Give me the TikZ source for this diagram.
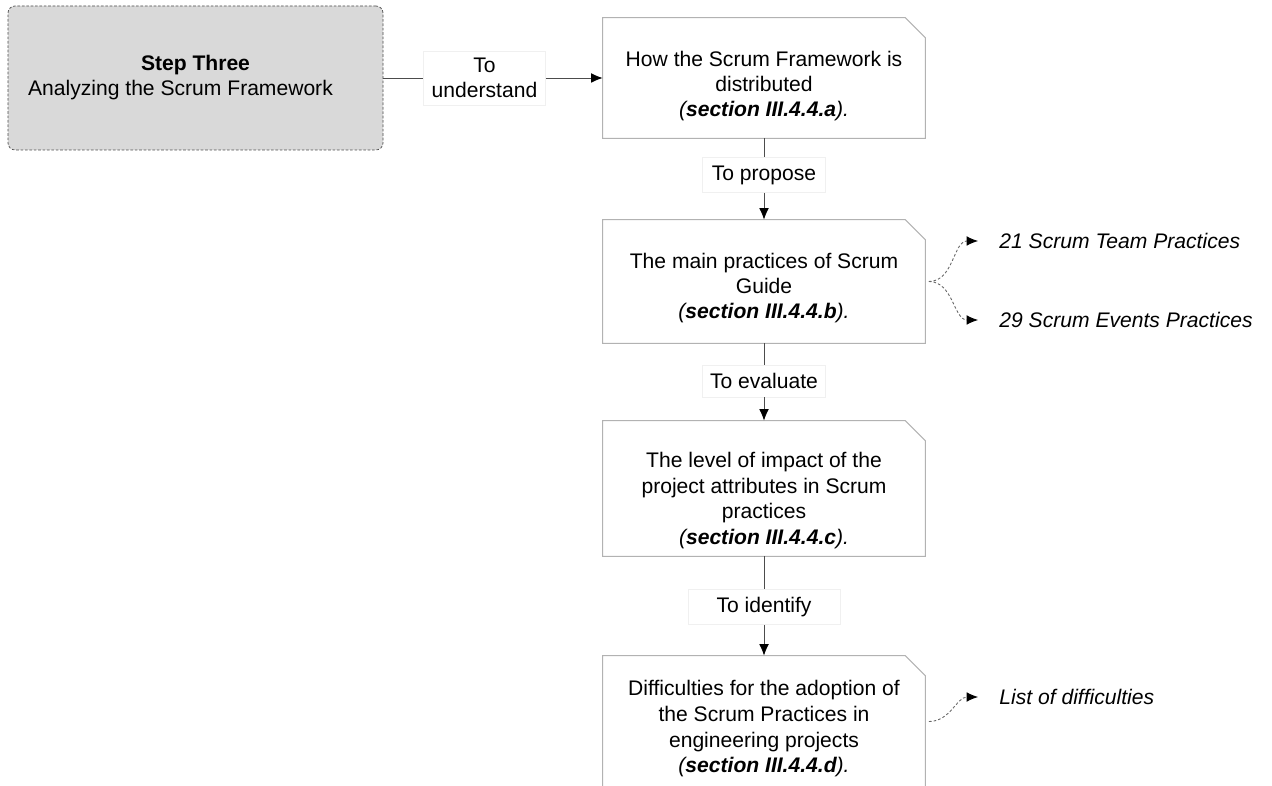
\documentclass[tikz,border=0pt]{standalone}
\usepackage{fontspec}
\setmainfont{Liberation Sans}
\usetikzlibrary{positioning,arrows.meta}

\newcommand{\docframe}[1]{\draw[docline] (#1.south west) -- (#1.north west) -- ([xshift=-0.4cm]#1.north east) -- ([yshift=-0.4cm]#1.north east) -- (#1.south east) -- cycle;}
\newcommand{\sect}[1]{\textit{(\textbf{section #1}).}}
\newcommand{\topgap}[1]{\rule{0pt}{#1}}

\begin{document}
\begin{tikzpicture}
[>={Latex[length=6.5pt,width=5.5pt,color=black]},
 every node/.style = {font=\fontsize{12}{14.2}\selectfont},
 stepbox/.style = {draw=black!70, dash pattern=on 1.5pt off 1pt, fill=black!15, rounded corners=4pt, minimum width=7.5cm, minimum height=2.88cm, align=center},
 docbox/.style = {minimum width=6.44cm, align=center, inner sep=0pt},
 docline/.style = {draw=black!30, line width=0.6pt},
 verb/.style = {draw=black!6, fill=white, align=center, inner sep=3pt},
 result/.style = {anchor=west, inner xsep=12pt, font=\fontsize{12}{14.2}\selectfont\itshape},
 link/.style = {draw=black!70, line width=0.5pt},
 hint/.style = {draw=black!60, dashed, dash pattern=on 1.5pt off 1.2pt, line width=0.5pt},]
\clip (0,0) rectangle (25.44,15.7);
% step box and the flow
\node (step) at (3.91,14.14)[stepbox] {\textbf{Step Three}\\Analyzing the Scrum Framework\hspace*{0.6cm}};
\node (b1) at (15.28,14.14)[docbox,minimum height=2.4cm] {\topgap{17.8pt}How the Scrum Framework is\\distributed\\\sect{III.4.4.a}};
\node (b2) at (15.28,10.07)[docbox,minimum height=2.46cm] {\topgap{16.6pt}The main practices of Scrum\\Guide\\\sect{III.4.4.b}};
\node (b3) at (15.28,5.93)[docbox,minimum height=2.7cm,font=\fontsize{12}{14.6}\selectfont] {\topgap{22.4pt}The level of impact of the\\project attributes in Scrum\\practices\\\sect{III.4.4.c}};
\node (b4) at (15.28,1.12)[docbox,minimum height=2.92cm,font=\fontsize{12}{14.6}\selectfont] {Difficulties for the adoption of\\the Scrum Practices in\\engineering projects\\\sect{III.4.4.d}};
\docframe{b1}
\docframe{b2}
\docframe{b3}
\docframe{b4}
% verbs on the connectors
\node (understand) at (9.69,14.14)[verb,minimum width=2.44cm,minimum height=1.08cm] {To\\understand};
\node (propose) at (15.28,12.2)[verb,minimum width=2.46cm,minimum height=0.7cm] {To propose};
\node (evaluate) at (15.28,8.08)[verb,minimum width=2.46cm,minimum height=0.64cm] {To evaluate};
\node (identify) at (15.28,3.56)[verb,minimum width=3.04cm,minimum height=0.7cm] {To identify};
% results
\node (team) at (19.56,10.88)[result] {21 Scrum Team Practices};
\node (events) at (19.56,9.3)[result] {29 Scrum Events Practices};
\node (difficulties) at (19.56,1.76)[result] {List of difficulties};
\draw [link] (step) -- (understand);
\draw [link,->] (understand) -- (b1);
\draw [link] (b1) -- (propose);
\draw [link,->] (propose) -- (b2);
\draw [link] (b2) -- (evaluate);
\draw [link,->] (evaluate) -- (b3);
\draw [link] (b3) -- (identify);
\draw [link,->] (identify) -- (b4);
\draw [hint,->] ([xshift=2pt]b2.east) to[out=0,in=180] (team.west);
\draw [hint,->] ([xshift=2pt]b2.east) to[out=0,in=180] (events.west);
\draw [hint,->] ([xshift=2pt,yshift=0.15cm]b4.east) to[out=0,in=180] (difficulties.west);
\end{tikzpicture}
\end{document}
